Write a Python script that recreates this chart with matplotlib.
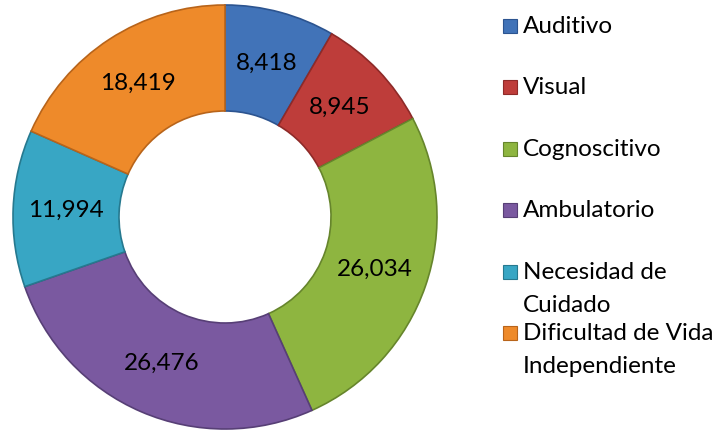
import matplotlib
matplotlib.use("Agg")
import matplotlib.pyplot as plt
import matplotlib.patches as mpatches
import numpy as np

plt.rcParams["font.family"] = ["Lato", "DejaVu Sans"]

categorias = ["Auditivo", "Visual", "Cognoscitivo", "Ambulatorio",
              "Necesidad de\nCuidado", "Dificultad de Vida\nIndependiente"]
valores = [8418, 8945, 26034, 26476, 11994, 18419]
colores = ["#4173B8", "#BE3D3A", "#8EB540", "#7A59A0", "#38A6C4", "#EE8A2A"]
bordes = ["#2C5490", "#8E2A28", "#66852C", "#573F76", "#26798F", "#B8641A"]

fig = plt.figure(figsize=(7.14, 4.33), dpi=100)
# donut: centre ~ (225, 217) px, radio ~ 212 px
R = 212
ax = fig.add_axes([(225 - R) / 714, (433 - 217 - R) / 433, 2 * R / 714, 2 * R / 433])

wedges, _ = ax.pie(valores, colors=colores, startangle=90, counterclock=False,
                   radius=1.0, wedgeprops=dict(width=0.5, linewidth=1.2),
                   frame=False)
ax.set_xlim(-1, 1)
ax.set_ylim(-1, 1)
ax.set_aspect("equal")
ax.axis("off")
for w, ec in zip(wedges, bordes):
    w.set_edgecolor(ec)

# etiquetas de valores en el centro de cada sector
for w, v in zip(wedges, valores):
    ang = np.deg2rad((w.theta1 + w.theta2) / 2)
    ax.text(0.75 * np.cos(ang), 0.75 * np.sin(ang), f"{v:,}",
            ha="center", va="center", fontsize=17.5, color="black")

# leyenda manual
y0, paso = 26, 61.4
for i, (lab, col, ec) in enumerate(zip(categorias, colores, bordes)):
    y = y0 + paso * i
    fig.patches.append(mpatches.Rectangle(
        (503 / 714, 1 - (y + 7) / 433), 14 / 714, 14 / 433,
        transform=fig.transFigure, facecolor=col, edgecolor=ec, linewidth=0.8))
    fig.text(523 / 714, 1 - (y - 10) / 433, lab, ha="left", va="top",
             fontsize=17.5, linespacing=1.7, color="black")

fig.savefig("out.png", dpi=100, facecolor="white")
